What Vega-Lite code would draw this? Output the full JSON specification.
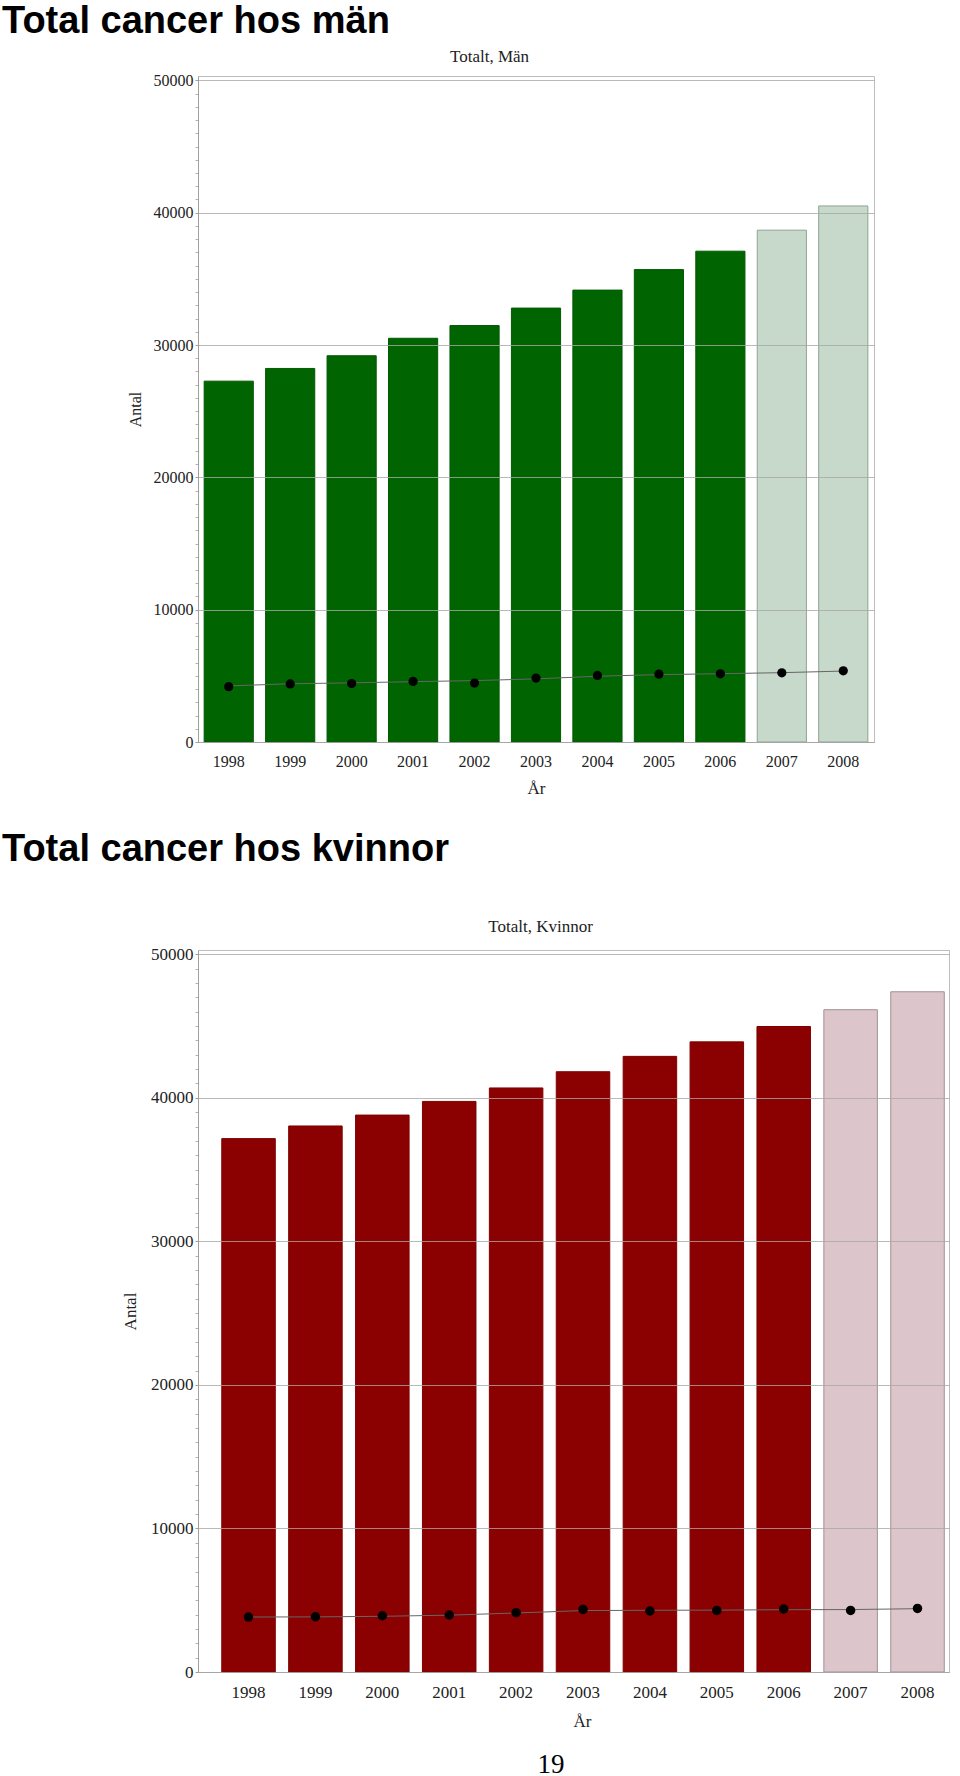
{
  "$schema": "https://vega.github.io/schema/vega-lite/v6.json",
  "background": "white",
  "padding": {"left": 1, "top": 2, "right": 0, "bottom": 0},
  "title": {"text": "19", "orient": "bottom", "anchor": "start", "frame": "bounds", "dx": 536, "offset": 22, "font": "Liberation Serif", "fontWeight": "normal", "fontSize": 27, "color": "#000"},
  "spacing": 33,
  "columns": 1,
  "config": {
    "view": {"stroke": "#bdbdbd", "strokeWidth": 1},
    "font": "Liberation Serif",
    "axis": {"labelFont": "Liberation Serif", "titleFont": "Liberation Serif", "labelColor": "#222", "titleColor": "#222", "titleFontWeight": "normal", "domainColor": "#a0a0a0", "tickColor": "#a0a0a0", "gridColor": "#a8a8a8", "gridOpacity": 0.8},
    "title": {"font": "Liberation Sans", "fontWeight": "bold", "color": "#000"}
  },
  "datasets": {
    "man": [
      {"ar": "1998", "antal": 27270, "dod": 4180, "trend": 4240, "prognos": false},
      {"ar": "1999", "antal": 28230, "dod": 4390, "trend": 4400, "prognos": false},
      {"ar": "2000", "antal": 29190, "dod": 4420, "trend": 4470, "prognos": false},
      {"ar": "2001", "antal": 30510, "dod": 4580, "trend": 4560, "prognos": false},
      {"ar": "2002", "antal": 31470, "dod": 4450, "trend": 4640, "prognos": false},
      {"ar": "2003", "antal": 32790, "dod": 4830, "trend": 4770, "prognos": false},
      {"ar": "2004", "antal": 34150, "dod": 5030, "trend": 4970, "prognos": false},
      {"ar": "2005", "antal": 35700, "dod": 5130, "trend": 5090, "prognos": false},
      {"ar": "2006", "antal": 37090, "dod": 5150, "trend": 5160, "prognos": false},
      {"ar": "2007", "antal": 38680, "dod": 5230, "trend": 5240, "prognos": true},
      {"ar": "2008", "antal": 40510, "dod": 5380, "trend": 5360, "prognos": true}
    ],
    "kvinnor": [
      {"ar": "1998", "antal": 37160, "dod": 3830, "trend": 3830, "prognos": false},
      {"ar": "1999", "antal": 38040, "dod": 3850, "trend": 3840, "prognos": false},
      {"ar": "2000", "antal": 38800, "dod": 3920, "trend": 3880, "prognos": false},
      {"ar": "2001", "antal": 39750, "dod": 3970, "trend": 3960, "prognos": false},
      {"ar": "2002", "antal": 40690, "dod": 4130, "trend": 4110, "prognos": false},
      {"ar": "2003", "antal": 41820, "dod": 4360, "trend": 4280, "prognos": false},
      {"ar": "2004", "antal": 42890, "dod": 4250, "trend": 4300, "prognos": false},
      {"ar": "2005", "antal": 43900, "dod": 4290, "trend": 4310, "prognos": false},
      {"ar": "2006", "antal": 44970, "dod": 4390, "trend": 4340, "prognos": false},
      {"ar": "2007", "antal": 46140, "dod": 4290, "trend": 4350, "prognos": true},
      {"ar": "2008", "antal": 47390, "dod": 4430, "trend": 4410, "prognos": true}
    ]
  },
  "concat": [
    {
      "width": 676,
      "height": 666,
      "data": {"name": "man"},
      "title": {"text": "Total cancer hos män", "anchor": "start", "frame": "group", "dx": -196, "offset": 6, "fontSize": 38},
      "resolve": {"axis": {"x": "independent", "y": "independent"}},
      "layer": [
        {
          "mark": {"type": "bar", "strokeWidth": 1},
          "encoding": {
            "x": {"field": "ar", "type": "ordinal", "scale": {"type": "band", "paddingInner": 0.2, "paddingOuter": 0.1},
                  "axis": {"title": "År", "orient": "bottom", "labelAngle": 0, "ticks": false, "labelPadding": 11, "labelFontSize": 16, "titleFontSize": 17, "titlePadding": 11}},
            "y": {"field": "antal", "type": "quantitative", "scale": {"domain": [0, 50330], "nice": false},
                  "axis": {"title": "Antal", "values": [0, 10000, 20000, 30000, 40000, 50000], "format": "d", "labelFontSize": 16, "titleFontSize": 16, "tickSize": 3, "labelPadding": 2, "titlePadding": 10, "grid": true, "zindex": 1}},
            "fill": {"condition": {"test": "datum.prognos", "value": "#c6d9cb"}, "value": "#006400"},
            "stroke": {"condition": {"test": "datum.prognos", "value": "#8fa394"}, "value": "#005a00"}
          }
        },
        {
          "mark": {"type": "line", "color": "#666666", "strokeWidth": 1},
          "encoding": {
            "x": {"field": "ar", "type": "ordinal", "scale": {"type": "band", "paddingInner": 0.2, "paddingOuter": 0.1},
                  "axis": {"orient": "top", "title": "Totalt, Män", "labels": false, "ticks": false, "domain": false, "grid": false, "titleFontSize": 17, "titlePadding": 11, "titleX": 291}},
            "y": {"field": "trend", "type": "quantitative", "scale": {"domain": [0, 50330], "nice": false},
                  "axis": {"orient": "left", "title": null, "labels": false, "grid": false, "domain": false, "tickSize": 3, "tickColor": "#b5b5b5",
                           "values": [1000,2000,3000,4000,5000,6000,7000,8000,9000,11000,12000,13000,14000,15000,16000,17000,18000,19000,21000,22000,23000,24000,25000,26000,27000,28000,29000,31000,32000,33000,34000,35000,36000,37000,38000,39000,41000,42000,43000,44000,45000,46000,47000,48000,49000]}}
          }
        },
        {
          "mark": {"type": "point", "filled": true, "color": "#000000", "size": 85, "opacity": 1},
          "encoding": {
            "x": {"field": "ar", "type": "ordinal", "scale": {"type": "band", "paddingInner": 0.2, "paddingOuter": 0.1}, "axis": null},
            "y": {"field": "dod", "type": "quantitative", "scale": {"domain": [0, 50330], "nice": false}, "axis": null}
          }
        }
      ]
    },
    {
      "width": 751,
      "height": 722,
      "data": {"name": "kvinnor"},
      "title": {"text": "Total cancer hos kvinnor", "anchor": "start", "frame": "group", "dx": -196, "offset": 48, "fontSize": 38},
      "resolve": {"axis": {"x": "independent", "y": "independent"}},
      "layer": [
        {
          "mark": {"type": "bar", "strokeWidth": 1},
          "encoding": {
            "x": {"field": "ar", "type": "ordinal", "scale": {"type": "band", "paddingInner": 0.2, "paddingOuter": 0.213, "align": 0.834},
                  "axis": {"title": "År", "orient": "bottom", "labelAngle": 0, "ticks": false, "labelPadding": 12, "labelFontSize": 17, "titleFontSize": 17, "titlePadding": 13, "titleX": 384}},
            "y": {"field": "antal", "type": "quantitative", "scale": {"domain": [0, 50300], "nice": false},
                  "axis": {"title": "Antal", "values": [0, 10000, 20000, 30000, 40000, 50000], "format": "d", "labelFontSize": 17, "titleFontSize": 17, "tickSize": 3, "labelPadding": 2, "titlePadding": 11, "grid": true, "zindex": 1}},
            "fill": {"condition": {"test": "datum.prognos", "value": "#dcc6cb"}, "value": "#8b0000"},
            "stroke": {"condition": {"test": "datum.prognos", "value": "#a38f94"}, "value": "#800000"}
          }
        },
        {
          "mark": {"type": "line", "color": "#666666", "strokeWidth": 1},
          "encoding": {
            "x": {"field": "ar", "type": "ordinal", "scale": {"type": "band", "paddingInner": 0.2, "paddingOuter": 0.213, "align": 0.834},
                  "axis": {"orient": "top", "title": "Totalt, Kvinnor", "labels": false, "ticks": false, "domain": false, "grid": false, "titleFontSize": 17, "titlePadding": 15, "titleX": 342}},
            "y": {"field": "trend", "type": "quantitative", "scale": {"domain": [0, 50300], "nice": false},
                  "axis": {"orient": "left", "title": null, "labels": false, "grid": false, "domain": false, "tickSize": 3, "tickColor": "#b5b5b5",
                           "values": [1000,2000,3000,4000,5000,6000,7000,8000,9000,11000,12000,13000,14000,15000,16000,17000,18000,19000,21000,22000,23000,24000,25000,26000,27000,28000,29000,31000,32000,33000,34000,35000,36000,37000,38000,39000,41000,42000,43000,44000,45000,46000,47000,48000,49000]}}
          }
        },
        {
          "mark": {"type": "point", "filled": true, "color": "#000000", "size": 90, "opacity": 1},
          "encoding": {
            "x": {"field": "ar", "type": "ordinal", "scale": {"type": "band", "paddingInner": 0.2, "paddingOuter": 0.213, "align": 0.834}, "axis": null},
            "y": {"field": "dod", "type": "quantitative", "scale": {"domain": [0, 50300], "nice": false}, "axis": null}
          }
        }
      ]
    }
  ]
}
